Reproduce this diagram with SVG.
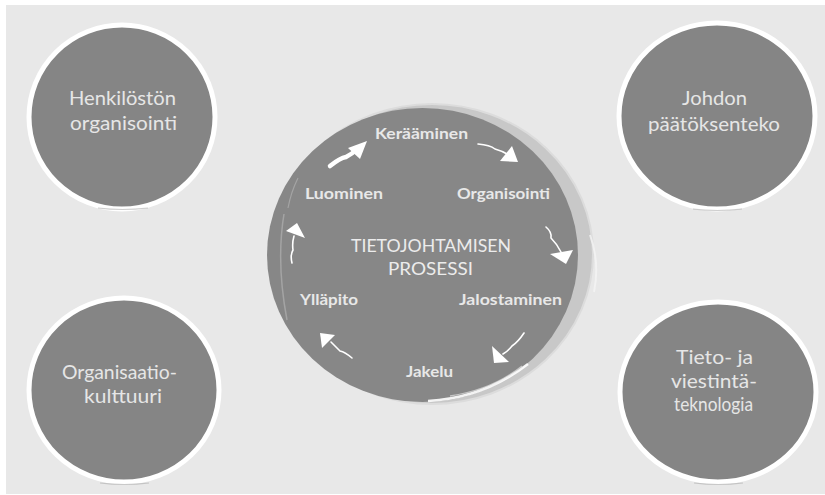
<svg xmlns="http://www.w3.org/2000/svg" width="825" height="495" viewBox="0 0 825 495">
<defs>
<style>
.bg{fill:#e8e8e8}
.outer{fill:#858585;stroke:#ffffff;stroke-width:5}
.lbl{font-family:Lato,"Liberation Sans",sans-serif;fill:#e6e6e6;text-anchor:middle}
.big{font-size:20px}
.small{font-size:14.5px;font-weight:bold;fill:#e8e8e8}
.title{font-size:18px;fill:#ececec}
.shaft{fill:none;stroke:#ffffff;stroke-linecap:round;stroke-linejoin:round}
.head{fill:#ffffff}
</style>
</defs>
<rect x="0" y="0" width="825" height="495" fill="#ffffff"/>
<rect class="bg" x="6" y="5" width="819" height="489"/>

<g id="node-henkiloston">
<ellipse class="outer" cx="122" cy="117" rx="93" ry="92"/>
<path d="M98 208 Q122 211 148 208" fill="none" stroke="#a0a0a0" stroke-width="1.2" opacity="0.5"/>
<text class="lbl big" x="122.5" y="105" textLength="107" lengthAdjust="spacingAndGlyphs">Henkilöstön</text>
<text class="lbl big" x="123.5" y="130" textLength="107" lengthAdjust="spacingAndGlyphs">organisointi</text>
</g>

<g id="node-johdon">
<ellipse class="outer" cx="717" cy="116" rx="98" ry="93"/>
<path d="M693 209 Q717 212 742 209" fill="none" stroke="#a0a0a0" stroke-width="1.2" opacity="0.5"/>
<text class="lbl big" x="714.5" y="105" textLength="65" lengthAdjust="spacingAndGlyphs">Johdon</text>
<text class="lbl big" x="714" y="131" textLength="132" lengthAdjust="spacingAndGlyphs">päätöksenteko</text>
</g>

<g id="node-organisaatiokulttuuri">
<ellipse class="outer" cx="124" cy="390" rx="95" ry="92"/>
<path d="M100 483 Q124 486 149 483" fill="none" stroke="#a0a0a0" stroke-width="1.2" opacity="0.5"/>
<text class="lbl big" x="119.5" y="379" textLength="115" lengthAdjust="spacingAndGlyphs">Organisaatio-</text>
<text class="lbl big" x="123" y="403" textLength="78" lengthAdjust="spacingAndGlyphs">kulttuuri</text>
</g>

<g id="node-tietoviestinta">
<ellipse class="outer" cx="718" cy="392" rx="98" ry="90"/>
<path d="M694 483 Q718 486 743 483" fill="none" stroke="#a0a0a0" stroke-width="1.2" opacity="0.5"/>
<text class="lbl big" x="714.5" y="364" textLength="77" lengthAdjust="spacingAndGlyphs">Tieto- ja</text>
<text class="lbl big" x="714" y="388" textLength="86" lengthAdjust="spacingAndGlyphs">viestintä-</text>
<text class="lbl big" x="713.5" y="411" textLength="79" lengthAdjust="spacingAndGlyphs">teknologia</text>
</g>

<g id="node-prosessi">
<ellipse cx="432" cy="254" rx="161" ry="150" fill="#c8c8c8" stroke="#dcdcdc" stroke-width="2"/>
<path d="M590 235 Q600 262 594 292" fill="none" stroke="#f4f4f4" stroke-width="2" opacity="0.8"/>
<ellipse cx="422.5" cy="255" rx="155.5" ry="147" fill="#878787"/>
<path d="M428 401 Q484 398 528 364" fill="none" stroke="#ffffff" stroke-width="2.5" opacity="0.9"/>
<path d="M450 396 Q492 390 522 366" fill="none" stroke="#f0f0f0" stroke-width="1.3" opacity="0.6"/>
<path d="M284 214 Q276 262 287 320" fill="none" stroke="#a4a4a4" stroke-width="1.5"/>
<path d="M298 178 Q291 192 288 208" fill="none" stroke="#a4a4a4" stroke-width="1.2"/>
<text class="lbl title" x="431" y="252" textLength="160" lengthAdjust="spacingAndGlyphs">TIETOJOHTAMISEN</text>
<text class="lbl title" x="430.5" y="275" textLength="85" lengthAdjust="spacingAndGlyphs">PROSESSI</text>
<text class="lbl small" x="421.5" y="139" textLength="93" lengthAdjust="spacingAndGlyphs">Kerääminen</text>
<text class="lbl small" x="503.5" y="199" textLength="93" lengthAdjust="spacingAndGlyphs">Organisointi</text>
<text class="lbl small" x="344" y="199" textLength="78" lengthAdjust="spacingAndGlyphs">Luominen</text>
<text class="lbl small" x="510.5" y="305" textLength="103" lengthAdjust="spacingAndGlyphs">Jalostaminen</text>
<text class="lbl small" x="329" y="305" textLength="58" lengthAdjust="spacingAndGlyphs">Ylläpito</text>
<text class="lbl small" x="429.5" y="377" textLength="47" lengthAdjust="spacingAndGlyphs">Jakelu</text>
</g>

<g id="connectors">
<path class="shaft" d="M330 166 Q340 158 346 157 Q352 154 356 150" stroke-width="4.5"/>
<polygon class="head" points="348,148 367,141 360,159"/>
<path class="shaft" d="M478 144 Q490 145 495 149 Q502 151 507 154" stroke-width="1.6"/>
<polygon class="head" points="500,161 518,162 512,146"/>
<path class="shaft" d="M546 227 Q552 232 551 238 Q557 244 561 252" stroke-width="1.6"/>
<polygon class="head" points="550,254 573,250 566,264"/>
<path class="shaft" d="M524 333 Q518 342 512 346 Q508 351 503 354" stroke-width="1.6"/>
<polygon class="head" points="492,346 494,363 509,362"/>
<path class="shaft" d="M352 358 Q345 352 340 351 Q336 347 331 342" stroke-width="1.6"/>
<polygon class="head" points="320,333 335,335 322,348"/>
<path class="shaft" d="M292 263 Q290 255 293 250 Q292 243 294 236" stroke-width="1.6"/>
<polygon class="head" points="286,231 297,223 305,238"/>
</g>
</svg>
